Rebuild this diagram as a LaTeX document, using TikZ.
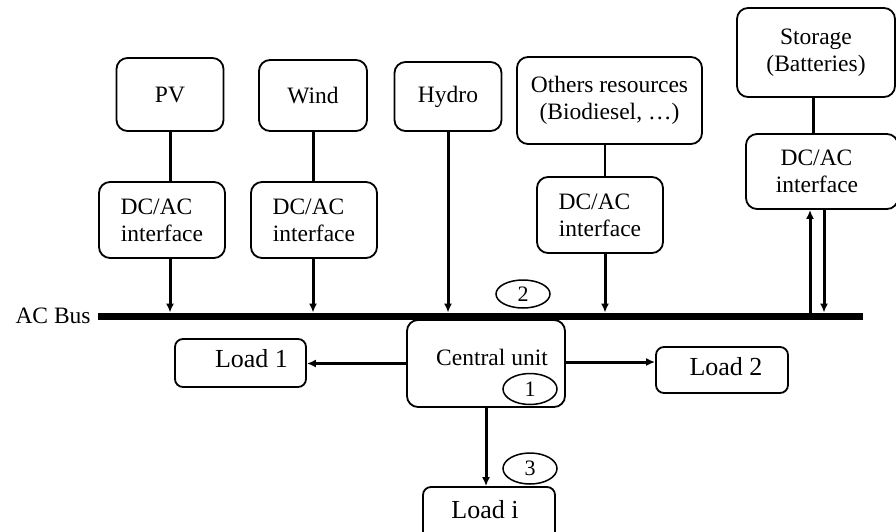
\documentclass[tikz,border=0pt]{standalone}
\usepackage{fontspec}
\setmainfont{Liberation Serif}
\usetikzlibrary{arrows.meta,shapes.geometric,calc}
\begin{document}
\begin{tikzpicture}[x=1pt,y=-1pt,
  blk/.style={draw, rounded corners=11pt, line width=1.8pt, align=center, inner sep=0pt,
    font=\fontsize{23.5}{27}\selectfont},
  ld/.style={blk, rounded corners=8pt, font=\fontsize{26}{30}\selectfont},
  conn/.style={line width=3pt},
  arr/.style={line width=3pt, -{Latex[length=9pt,width=8pt]}},
  tag/.style={draw, ellipse, line width=1.5pt, minimum width=54pt, minimum height=31pt, inner sep=0pt,
    font=\fontsize{22}{26}\selectfont}
]
\useasboundingbox (0,0) rectangle (896,531);

% sources
\node[blk, minimum width=107pt, minimum height=73pt] (pv) at (170,94.5) {PV};
\node[blk, minimum width=108pt, minimum height=71pt] (wind) at (313,95.5) {Wind};
\node[blk, minimum width=107pt, minimum height=69pt] (hydro) at (448,96.5) {Hydro};
\node[blk, minimum width=185pt, minimum height=87pt] (oth) at (609.5,100.5) {Others resources\\(Biodiesel, \ldots)};
\node[blk, minimum width=158pt, minimum height=89pt] (stor) at (816,52.5) {Storage\\(Batteries)};

% interfaces
\node[blk, minimum width=126pt, minimum height=76pt] (dcpv) at (162,220) {DC/AC\hspace*{11pt}\\interface};
\node[blk, minimum width=126pt, minimum height=76pt] (dcw) at (314,220) {DC/AC\hspace*{11pt}\\interface};
\node[blk, minimum width=126pt, minimum height=76pt] (dco) at (600,215) {DC/AC\hspace*{11pt}\\interface};
\node[blk, minimum width=152pt, minimum height=75pt] (dcs) at (822,171.5) {DC/AC\hspace*{11pt}\\interface\hspace*{10pt}};

% bus
\node[fill=black, minimum width=765pt, minimum height=7.5pt, inner sep=0pt] (bus) at (480.5,316.5) {};
\node[anchor=east, inner sep=0pt, font=\fontsize{23.5}{27}\selectfont] (buslbl) at ([xshift=-7pt,yshift=1pt]bus.west) {AC Bus};

% central unit and loads
\node[blk, minimum width=158pt, minimum height=87pt, text height=16pt, text depth=13pt] (cen) at (486,363.5) {\hspace*{12pt}Central unit};
\node[ld, minimum width=131pt, minimum height=48pt, text height=17pt, text depth=8pt] (l1) at (240.5,363) {\hspace*{22pt}Load 1};
\node[ld, minimum width=132pt, minimum height=46pt, text height=17pt, text depth=7pt] (l2) at (722,370) {\hspace*{8pt}Load 2};
\node[ld, minimum width=132pt, minimum height=58pt, text height=16pt, text depth=12pt] (li) at (489,516) {Load i\hspace*{8pt}};

% tags
\node[tag] (t1) at (530,389) {1};
\node[tag, minimum height=28pt] (t2) at (523,294) {2};
\node[tag] (t3) at (530,468.5) {3};

% connectors
\draw[conn] (pv.south) -- (pv.south |- dcpv.north);
\draw[arr] (pv.south |- dcpv.south) -- (pv.south |- bus.north);
\draw[conn] (wind.south) -- (wind.south |- dcw.north);
\draw[arr] (wind.south |- dcw.south) -- (wind.south |- bus.north);
\draw[arr] (hydro.south) -- (hydro.south |- bus.north);
\draw[line width=1.3pt] ([xshift=5pt]dco.north |- oth.south) -- ([xshift=5pt]dco.north);
\draw[arr] ([xshift=5pt]dco.south) -- ([xshift=5pt]dco.south |- bus.north);
\draw[conn] ([xshift=-3pt]stor.south) -- ([xshift=-3pt]stor.south |- dcs.north);
\draw[arr] ([xshift=-12pt]dcs.south |- bus.north) -- ([xshift=-12pt]dcs.south);
\draw[arr] ([xshift=2pt]dcs.south) -- ([xshift=2pt]dcs.south |- bus.north);

\draw[arr] (cen.west) -- (cen.west -| l1.east);
\draw[arr] ([yshift=1.5pt]cen.east) -- ([yshift=1.5pt]cen.east -| l2.west);
\draw[arr] (cen.south) -- (cen.south |- li.north);
\end{tikzpicture}
\end{document}
